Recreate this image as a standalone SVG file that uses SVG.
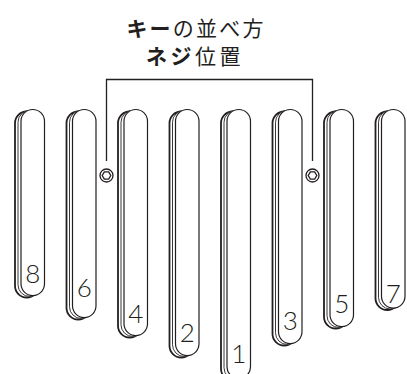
<svg xmlns="http://www.w3.org/2000/svg" width="407" height="374" viewBox="0 0 407 374">
<style>
.bk{fill:#fff;stroke:#231f20;stroke-width:1.8}
.md{fill:#fff;stroke:#231f20;stroke-width:0.9}
.fr{fill:#fff;stroke:#231f20;stroke-width:1.2}
.num{font-family:Lato,"Noto Sans",sans-serif;font-weight:300;font-size:26px;fill:#231f20;text-anchor:middle}
.ttl{font-family:"Noto Sans CJK JP",sans-serif;font-size:21px;fill:#231f20;text-anchor:middle}
.b{font-weight:bold}
.ln{fill:none;stroke:#231f20;stroke-width:1.3}
</style>
<rect width="407" height="374" fill="#fff"/>
<g id="title">
<text class="ttl" x="196" y="36" letter-spacing="2.2"><tspan class="b">キー</tspan>の並べ方</text>
<text class="ttl" x="195" y="64" letter-spacing="3.5"><tspan class="b">ネジ</tspan>位置</text>
</g>
<g id="connectors">
<path class="ln" d="M106.5,161 V79.5 H312.5 V161"/>
</g>
<g id="key8">
<rect class="bk" x="15" y="111.5" width="23.5" height="186" rx="11.75"/>
<rect class="md" x="18" y="110.5" width="23.5" height="186" rx="11.75"/>
<rect class="fr" x="21" y="109.5" width="23.5" height="186" rx="11.75"/>
<text class="num" x="32.75" y="283">8</text>
</g>
<g id="key6">
<rect class="bk" x="66.5" y="111.5" width="23.5" height="208" rx="11.75"/>
<rect class="md" x="69.5" y="110.5" width="23.5" height="208" rx="11.75"/>
<rect class="fr" x="72.5" y="109.5" width="23.5" height="208" rx="11.75"/>
<text class="num" x="84.25" y="297">6</text>
</g>
<g id="key4">
<rect class="bk" x="118" y="111.5" width="23.5" height="226" rx="11.75"/>
<rect class="md" x="121" y="110.5" width="23.5" height="226" rx="11.75"/>
<rect class="fr" x="124" y="109.5" width="23.5" height="226" rx="11.75"/>
<text class="num" x="135.75" y="323">4</text>
</g>
<g id="key2">
<rect class="bk" x="169.5" y="111.5" width="23.5" height="246" rx="11.75"/>
<rect class="md" x="172.5" y="110.5" width="23.5" height="246" rx="11.75"/>
<rect class="fr" x="175.5" y="109.5" width="23.5" height="246" rx="11.75"/>
<text class="num" x="187.25" y="341.5">2</text>
</g>
<g id="key1">
<rect class="bk" x="221" y="111.5" width="23.5" height="269" rx="11.75"/>
<rect class="md" x="224" y="110.5" width="23.5" height="269" rx="11.75"/>
<rect class="fr" x="227" y="109.5" width="23.5" height="269" rx="11.75"/>
<text class="num" x="238.75" y="362.5">1</text>
</g>
<g id="key3">
<rect class="bk" x="272.5" y="111.5" width="23.5" height="234" rx="11.75"/>
<rect class="md" x="275.5" y="110.5" width="23.5" height="234" rx="11.75"/>
<rect class="fr" x="278.5" y="109.5" width="23.5" height="234" rx="11.75"/>
<text class="num" x="290.25" y="330">3</text>
</g>
<g id="key5">
<rect class="bk" x="324" y="111.5" width="23.5" height="217" rx="11.75"/>
<rect class="md" x="327" y="110.5" width="23.5" height="217" rx="11.75"/>
<rect class="fr" x="330" y="109.5" width="23.5" height="217" rx="11.75"/>
<text class="num" x="341.75" y="313">5</text>
</g>
<g id="key7">
<rect class="bk" x="375.5" y="111.5" width="23.5" height="198.5" rx="11.75"/>
<rect class="md" x="378.5" y="110.5" width="23.5" height="198.5" rx="11.75"/>
<rect class="fr" x="381.5" y="109.5" width="23.5" height="198.5" rx="11.75"/>
<text class="num" x="393.25" y="302.5">7</text>
</g>
<g id="screw-left">
<circle class="ln" cx="106.5" cy="175.5" r="6.5"/>
<polygon class="ln" stroke-width="1" points="110.8,175.5 108.65,179.2 104.35,179.2 102.2,175.5 104.35,171.8 108.65,171.8"/>
</g>
<g id="screw-right">
<circle class="ln" cx="312.5" cy="175.5" r="6.5"/>
<polygon class="ln" stroke-width="1" points="316.8,175.5 314.65,179.2 310.35,179.2 308.2,175.5 310.35,171.8 314.65,171.8"/>
</g>
</svg>
